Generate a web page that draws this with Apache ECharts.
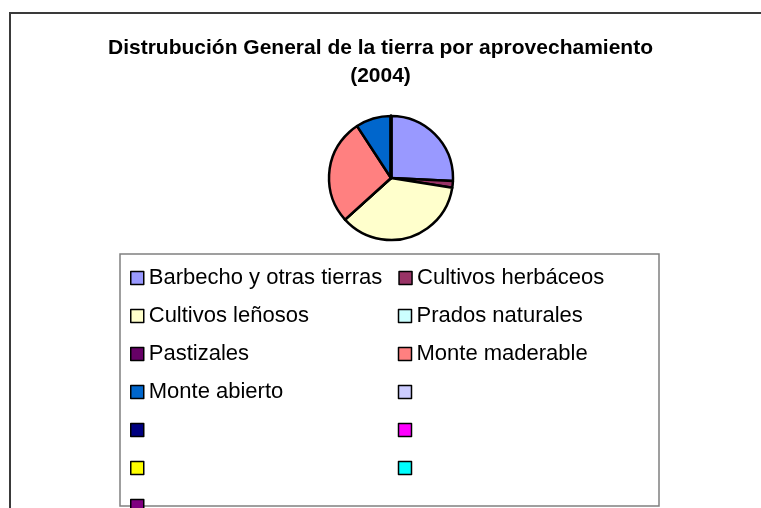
<!DOCTYPE html>
<html>
<head>
<meta charset="utf-8">
<script src="https://cdn.jsdelivr.net/npm/echarts@6/dist/echarts.min.js"></script>
<style>
  html, body { margin: 0; padding: 0; background: #fff; }
  #main { width: 761px; height: 508px; }
</style>
</head>
<body>
<div id="main"></div>
<script>
// categorias (las vacias llevan espacios para que la leyenda no las junte)
var categories = ['Barbecho y otras tierras', 'Cultivos herbáceos', 'Cultivos leñosos', 'Prados naturales',
    'Pastizales', 'Monte maderable', 'Monte abierto', ' ', '  ', '   ', '    ', '     ', '      '];
// porcentaje de superficie 2004
var values = [25.8, 1.7, 35.8, 0, 0, 27.5, 9.2, 0, 0, 0, 0, 0, 0];
var colors = ['#9999ff', '#993366', '#ffffcc', '#ccffff', '#660066', '#ff8080', '#0066cc',
    '#ccccff', '#000080', '#ff00ff', '#ffff00', '#00ffff', '#800080'];

var chart = echarts.init(document.getElementById('main'));

var pieData = [];
for (var i = 0; i < categories.length; i++) {
    pieData.push({ name: categories[i], value: values[i] });
}

var option = {
    animation: false,
    color: colors,
    title: {
        text: 'Distrubución General de la tierra por aprovechamiento\n(2004)',
        left: 'center',
        top: 29,
        textStyle: {
            fontFamily: 'Liberation Sans',
            fontSize: 21,
            fontWeight: 'bold',
            lineHeight: 28,
            color: '#000'
        }
    },
    legend: {
        left: 130,
        top: 267,
        width: 530,
        padding: 0,
        orient: 'horizontal',
        itemGap: 16,
        itemWidth: 13,
        itemHeight: 13,
        icon: 'rect',
        itemStyle: {
            borderColor: '#000',
            borderWidth: 1.5
        },
        textStyle: {
            fontFamily: 'Liberation Sans',
            fontSize: 22,
            lineHeight: 22,
            width: 233,
            color: '#000'
        },
        data: categories
    },
    graphic: [
        {
            type: 'rect',
            shape: { x: 10, y: 13, width: 800, height: 600 },
            style: { fill: null, stroke: '#3a3a3a', lineWidth: 2 },
            silent: true
        },
        {
            type: 'rect',
            shape: { x: 120, y: 254, width: 539, height: 252 },
            style: { fill: null, stroke: '#808080', lineWidth: 1.5 },
            silent: true
        }
    ],
    series: [
        {
            type: 'pie',
            center: [391, 178],
            radius: 62,
            startAngle: 90,
            clockwise: true,
            label: { show: false },
            labelLine: { show: false },
            itemStyle: {
                borderColor: '#000',
                borderWidth: 2.5
            },
            emphasis: { disabled: true },
            data: pieData
        }
    ]
};

chart.setOption(option);
</script>
</body>
</html>
